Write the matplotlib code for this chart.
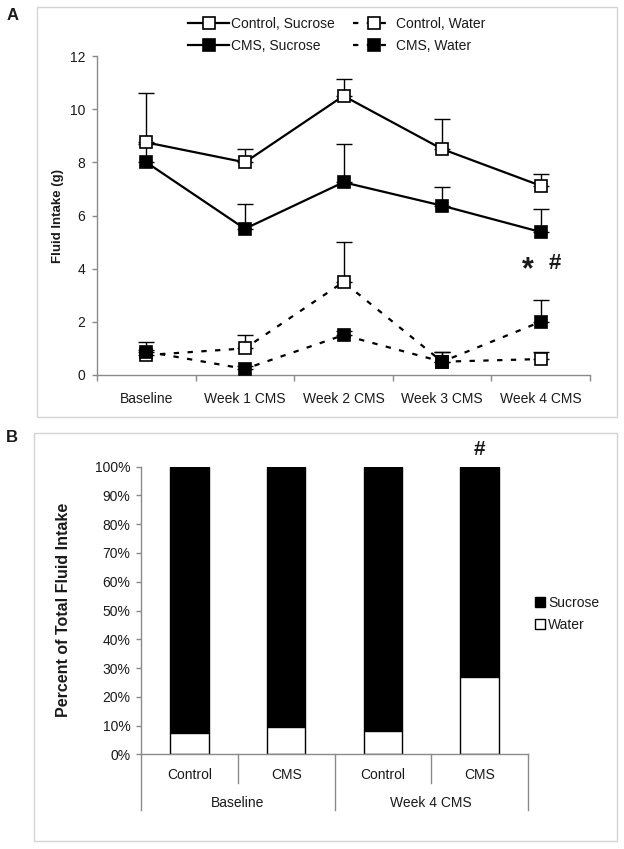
import matplotlib
matplotlib.use('Agg')
import matplotlib.pyplot as plt
from matplotlib.patches import Rectangle, Patch
from matplotlib.lines import Line2D
import matplotlib.transforms as mtransforms
from matplotlib.ticker import FuncFormatter, FixedLocator

plt.rcParams['font.family'] = ['Liberation Sans', 'DejaVu Sans']

# ---------------- data: panel A ----------------
weeks = ['Baseline', 'Week 1 CMS', 'Week 2 CMS', 'Week 3 CMS', 'Week 4 CMS']
ctrl_sucrose = [8.75, 8.0, 10.5, 8.5, 7.12]
ctrl_sucrose_err = [1.85, 0.5, 0.65, 1.12, 0.45]
cms_sucrose = [8.0, 5.5, 7.25, 6.37, 5.38]
cms_sucrose_err = [0.7, 0.95, 1.45, 0.72, 0.85]
ctrl_water = [0.75, 1.0, 3.5, 0.5, 0.6]
ctrl_water_err = [0.2, 0.5, 1.52, 0.35, 0.25]
cms_water = [0.88, 0.23, 1.5, 0.5, 2.0]
cms_water_err = [0.37, 0.1, 0.15, 0.35, 0.82]

# ---------------- data: panel B ----------------
groups = ['Baseline', 'Week 4 CMS']
conditions = ['Control', 'CMS', 'Control', 'CMS']
water_pct = [7.5, 9.5, 8.0, 27.0]
sucrose_pct = [92.5, 90.5, 92.0, 73.0]

W, H = 624, 849
fig = plt.figure(figsize=(W / 100, H / 100), dpi=100)
fig.patch.set_facecolor('white')

def fx(px):
    return px / W

def fy(py):
    return 1 - py / H

# frames
for (x0, y0, x1, y1) in [(37, 7, 617, 417), (34, 433, 617, 841)]:
    fig.patches.append(Rectangle((fx(x0), fy(y1)), fx(x1) - fx(x0), fy(y0) - fy(y1),
                                 transform=fig.transFigure, fill=False,
                                 edgecolor='#d4d4d4', lw=1.0))

TXT = '#1a1a1a'
AXC = '#8a8a8a'

# ---------------- panel A ----------------
ax1 = fig.add_axes([fx(97), fy(375), fx(590) - fx(97), fy(56) - fy(375)])
x = list(range(len(weeks)))
solid = dict(color='black', lw=1.6, marker='s', ms=8.5, mec='black', mew=1.2)
dashed = dict(color='black', lw=1.6, ls=(0, (2.4, 3.8)), marker='s', ms=8.5, mec='black', mew=1.2)

series = [
    (ctrl_sucrose, ctrl_sucrose_err, solid, 'white', 'Control, Sucrose'),
    (cms_sucrose, cms_sucrose_err, solid, 'black', 'CMS, Sucrose'),
    (ctrl_water, ctrl_water_err, dashed, 'white', 'Control, Water'),
    (cms_water, cms_water_err, dashed, 'black', 'CMS, Water'),
]
handles = []
for i, (vals, errs, sty, mfc, lab) in enumerate(series):
    ax1.errorbar(x, vals, yerr=[[0] * len(errs), errs], fmt='none', ecolor='black',
                 elinewidth=1.0, capsize=5.5, capthick=1.0, zorder=2 + i * 0.1)
    h, = ax1.plot(x, vals, mfc=mfc, label=lab, zorder=3 + i * 0.1, **sty)
    handles.append(h)

ax1.set_xlim(-0.5, 4.5)
ax1.set_ylim(0, 12)
ax1.set_yticks(range(0, 13, 2))
ax1.set_xticks(x)
ax1.set_xticklabels(weeks)
ax1.xaxis.set_minor_locator(FixedLocator([-0.5, 0.5, 1.5, 2.5, 3.5, 4.5]))
ax1.tick_params(axis='x', which='major', length=0, pad=12, labelsize=10, labelcolor=TXT)
ax1.tick_params(axis='x', which='minor', length=4, width=1, color=AXC, direction='out')
ax1.tick_params(axis='y', length=3.5, width=1, color=AXC, pad=5, labelsize=10, labelcolor=TXT)
for s in ['top', 'right']:
    ax1.spines[s].set_visible(False)
for s in ['left', 'bottom']:
    ax1.spines[s].set_color(AXC)
    ax1.spines[s].set_linewidth(1)

fig.text(fx(58), fy(216), 'Fluid Intake (g)', rotation=90, ha='center', va='center',
         fontsize=9.5, fontweight='bold', color=TXT)

ax1.text(4 - 0.13, 3.95, '*', ha='center', va='center', fontsize=22, fontweight='bold', color=TXT)
ax1.text(4 + 0.14, 4.2, '#', ha='center', va='center', fontsize=16, fontweight='bold', color=TXT)

leg1 = fig.legend(handles=[handles[0], handles[1], handles[2], handles[3]],
                  ncol=2, loc='center', bbox_to_anchor=(fx(337), fy(35)),
                  frameon=False, fontsize=10, handlelength=2.95, handletextpad=0.15,
                  columnspacing=1.3, labelspacing=0.55, borderpad=0, borderaxespad=0)
for t in leg1.get_texts():
    t.set_color(TXT)

fig.text(fx(13), fy(15), 'A', fontsize=12, fontweight='bold', ha='center', va='center', color=TXT)
fig.text(fx(12), fy(437), 'B', fontsize=12, fontweight='bold', ha='center', va='center', color=TXT)

# ---------------- panel B ----------------
ax2 = fig.add_axes([fx(141), fy(754.3), fx(528) - fx(141), fy(466.7) - fy(754.3)])
bx = list(range(len(conditions)))
b_s = ax2.bar(bx, sucrose_pct, bottom=water_pct, width=0.4, color='black',
              edgecolor='black', lw=1.0, label='Sucrose')
b_w = ax2.bar(bx, water_pct, width=0.4, color='white', edgecolor='black', lw=1.0,
              label='Water')
ax2.set_xlim(-0.5, 3.5)
ax2.set_ylim(0, 100)
ax2.set_yticks(range(0, 101, 10))
ax2.yaxis.set_major_formatter(FuncFormatter(lambda v, p: f'{int(v)}%'))
ax2.set_xticks([])
ax2.tick_params(axis='y', length=3.5, width=1, color=AXC, pad=4, labelsize=10, labelcolor=TXT)
for s in ['top', 'right']:
    ax2.spines[s].set_visible(False)
for s in ['left', 'bottom']:
    ax2.spines[s].set_color(AXC)
    ax2.spines[s].set_linewidth(1)

trans = mtransforms.blended_transform_factory(ax2.transData, ax2.transAxes)
for i, c in enumerate(conditions):
    ax2.text(i, -0.072, c, transform=trans, ha='center', va='center', fontsize=10, color=TXT)
for xb in [-0.5, 0.5, 1.5, 2.5, 3.5]:
    outer = xb in (-0.5, 1.5, 3.5)
    ax2.add_line(Line2D([xb, xb], [0, -0.193 if outer else -0.099], transform=trans,
                        color=AXC, lw=1, clip_on=False))
for gi, g in enumerate(groups):
    ax2.text(0.5 + 2 * gi, -0.169, g, transform=trans, ha='center', va='center',
             fontsize=10, color=TXT)

ax2.text(3, 106, '#', ha='center', va='center', fontsize=15, fontweight='bold',
         color=TXT, clip_on=False)

fig.text(fx(63), fy(610), 'Percent of Total Fluid Intake', rotation=90, ha='center',
         va='center', fontsize=11.5, fontweight='bold', color=TXT)

leg2 = fig.legend(handles=[Patch(facecolor='black', edgecolor='black', label='Sucrose'),
                           Patch(facecolor='white', edgecolor='black', label='Water')],
                  loc='center left', bbox_to_anchor=(fx(535), fy(614)), frameon=False,
                  fontsize=10, handlelength=0.75, handleheight=0.75, handletextpad=0.2,
                  labelspacing=0.55, borderpad=0, borderaxespad=0)
for t in leg2.get_texts():
    t.set_color(TXT)

fig.savefig('out.png', dpi=100, facecolor='white')
